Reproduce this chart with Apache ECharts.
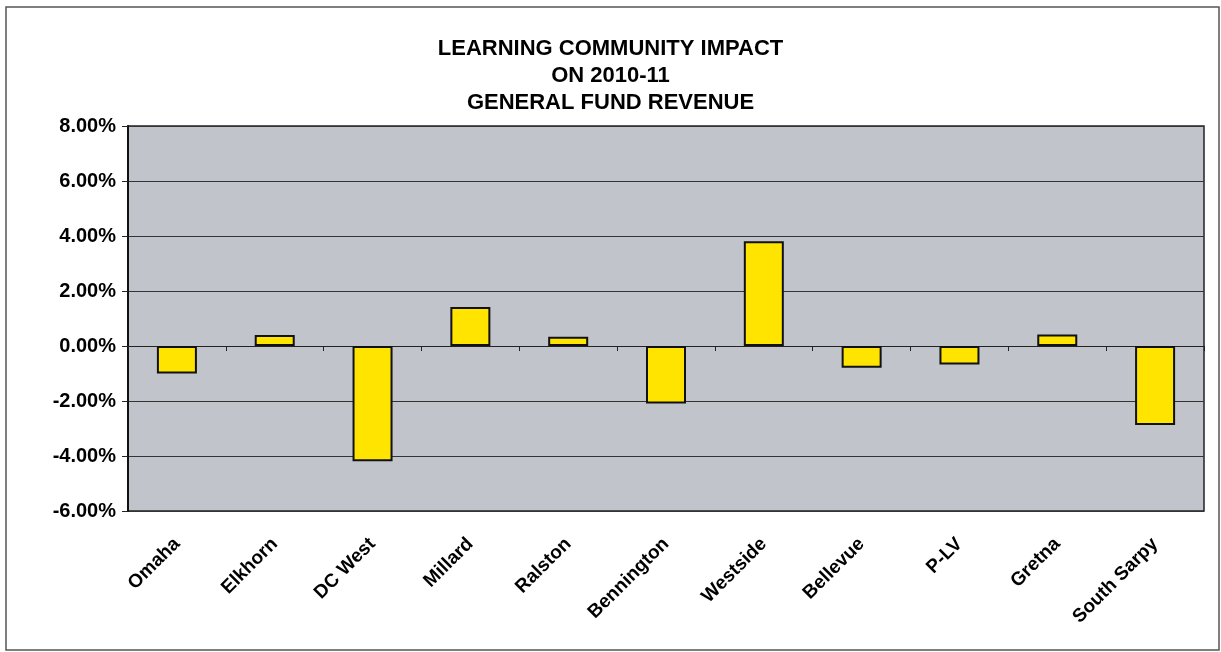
<!DOCTYPE html>
<html>
<head>
<meta charset="utf-8">
<script src="https://cdn.jsdelivr.net/npm/echarts@6/dist/echarts.min.js"></script>
<style>
  html, body { margin: 0; padding: 0; background: #fff; }
  #main { width: 1221px; height: 652px; }
</style>
</head>
<body>
<div id="main"></div>
<script>
var districts = ['Omaha', 'Elkhorn', 'DC West', 'Millard', 'Ralston', 'Bennington',
                 'Westside', 'Bellevue', 'P-LV', 'Gretna', 'South Sarpy'];
var impact = [-1.00, 0.40, -4.19, 1.42, 0.34, -2.09, 3.81, -0.79, -0.67, 0.42, -2.87];
var titleLines = ['LEARNING COMMUNITY IMPACT', 'ON 2010-11', 'GENERAL FUND REVENUE'];

var myChart = echarts.init(document.getElementById('main'));

var option = {
  backgroundColor: '#fff',
  animation: false,
  title: {
    text: titleLines.join('\n'),
    left: 'center',
    top: 30,
    textStyle: {
      fontFamily: 'Liberation Sans, Arial',
      fontWeight: 'bold',
      fontSize: 22,
      lineHeight: 27,
      color: '#000'
    }
  },
  graphic: [{
    type: 'rect',
    shape: { x: 6, y: 7, width: 1213, height: 643 },
    style: { fill: 'none', stroke: '#555', lineWidth: 1.5 }
  }],
  grid: {
    left: 128, right: 17, top: 126, bottom: 141,
    show: true,
    backgroundColor: '#c1c4cb',
    borderColor: '#222',
    borderWidth: 1.5
  },
  xAxis: [{
    type: 'category',
    data: districts,
    position: 'bottom',
    axisLine: { show: false, onZero: false },
    axisTick: { show: false },
    axisLabel: {
      rotate: 45,
      margin: 30,
      interval: 0,
      fontFamily: 'Liberation Sans, Arial',
      fontWeight: 'bold',
      fontSize: 19,
      color: '#000'
    }
  }, {
    type: 'category',
    data: districts,
    position: 'top',
    axisLine: { show: true, onZero: true, lineStyle: { color: '#222', width: 1.2 } },
    axisTick: { show: true, inside: true, length: 5, lineStyle: { color: '#222' } },
    axisLabel: { show: false }
  }],
  yAxis: {
    type: 'value',
    min: -6,
    max: 8,
    interval: 2,
    axisLine: { show: true, lineStyle: { color: '#111', width: 2 } },
    axisTick: { show: true, length: 6, lineStyle: { color: '#222' } },
    splitLine: { show: true, lineStyle: { color: '#333', width: 1 } },
    axisLabel: {
      formatter: function (v) { return v.toFixed(2) + '%'; },
      margin: 12,
      fontFamily: 'Liberation Sans, Arial',
      fontWeight: 'bold',
      fontSize: 20,
      color: '#000'
    }
  },
  series: [{
    type: 'bar',
    xAxisIndex: 0,
    data: impact,
    barWidth: 40,
    itemStyle: {
      color: '#ffe400',
      borderColor: '#111',
      borderWidth: 2
    }
  }]
};

myChart.setOption(option);
</script>
</body>
</html>
